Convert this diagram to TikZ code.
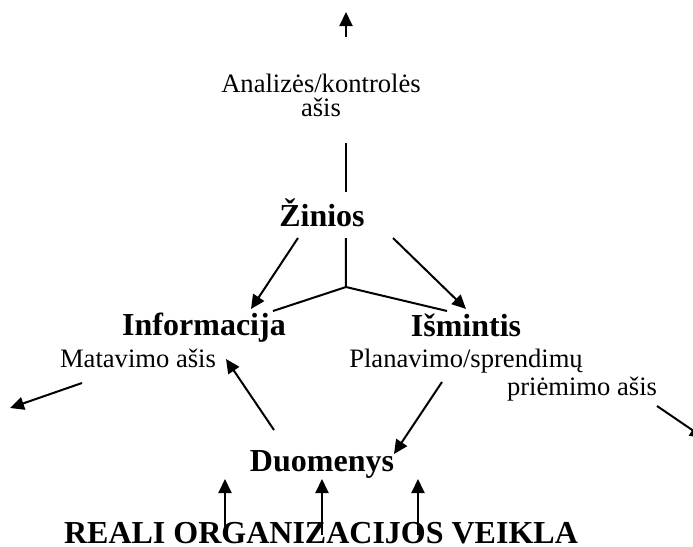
\documentclass[tikz,border=0pt]{standalone}
\usepackage{fontspec}
\setmainfont{Liberation Serif}
\usetikzlibrary{arrows.meta}

\tikzset{every picture/.style={line width=1pt}}
\tikzset{
  axislabel/.style={font=\fontsize{13.3}{12}\selectfont, inner sep=0pt, anchor=base},
  levellabel/.style={font=\fontsize{16}{18}\selectfont\bfseries, inner sep=0pt, anchor=base},
  arr/.style={-{Triangle[length=7pt,width=6.5pt]}}
}

\begin{document}
\begin{tikzpicture}[x=0.5pt,y=0.5pt,yscale=-1,xscale=1]
	\useasboundingbox (0,0) rectangle (693,547);

	% Text Node
	\node[axislabel] (analize) at (321,92) {Analizės/kontrolės};
	% Text Node
	\node[axislabel] (analizeasis) at (321,116) {ašis};
	% Text Node
	\node[levellabel] (zinios) at (322,226) {Žinios};
	% Text Node
	\node[levellabel] (informacija) at (204,335) {Informacija};
	% Text Node
	\node[levellabel] (ismintis) at (466,336) {Išmintis};
	% Text Node
	\node[axislabel] (matavimo) at (138,367) {Matavimo ašis};
	% Text Node
	\node[axislabel] (planavimo) at (466,367) {Planavimo/sprendimų};
	% Text Node
	\node[axislabel] (priemimo) at (582,395) {priėmimo ašis};
	% Text Node
	\node[levellabel] (duomenys) at (322,471) {Duomenys};
	% Text Node
	\node[levellabel] (veikla) at (321,543) {REALI ORGANIZACIJOS VEIKLA};

	%Coordinates for the line ends
	\coordinate (topTail) at (346,37);
	\coordinate (topTip) at (346,12);
	\coordinate (axisTop) at (346,143);
	\coordinate (axisBot) at (346,192);
	\coordinate (zinL) at (298,238);
	\coordinate (zinLTip) at (251,309);
	\coordinate (zinR) at (393,238);
	\coordinate (zinRTip) at (466,309);
	\coordinate (stem) at (346,238);
	\coordinate (joint) at (346,287);
	\coordinate (branchL) at (273,311);
	\coordinate (branchR) at (447,311);
	\coordinate (matTail) at (82,383);
	\coordinate (matTip) at (10,408);
	\coordinate (priTail) at (657,406);
	\coordinate (priTip) at (704,438);
	\coordinate (duoInfTail) at (274,430);
	\coordinate (duoInfTip) at (226,359);
	\coordinate (planTail) at (442,382);
	\coordinate (planTip) at (394,454);

	%Straight Lines
	\draw[arr] (topTail) -- (topTip);
	\draw (axisTop) -- (axisBot);
	\draw[arr] (zinL) -- (zinLTip);
	\draw[arr] (zinR) -- (zinRTip);
	\draw (stem) -- (joint) -- (branchL);
	\draw (joint) -- (branchR);
	\draw[arr] (matTail) -- (matTip);
	\draw[arr] (priTail) -- (priTip);
	\draw[arr] (duoInfTail) -- (duoInfTip);
	\draw[arr] (planTail) -- (planTip);
	\foreach \px in {225,322,418}
	  \draw[arr] (\px,535) -- (\px,479);

	\end{tikzpicture}
\end{document}
